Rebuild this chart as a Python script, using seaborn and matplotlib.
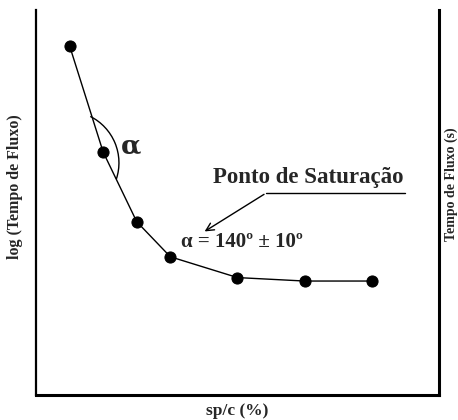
import matplotlib
matplotlib.use("Agg")
import matplotlib.pyplot as plt
from matplotlib.patches import Arc
import numpy as np
import pandas as pd
import seaborn as sns

# Flow-time curve versus superplasticizer/cement ratio
sp_c = [1, 2, 3, 4, 6, 8, 10]
log_tempo = [9.07, 6.31, 4.50, 3.59, 3.05, 2.96, 2.96]

x_label = "sp/c (%)"
y_label = "log (Tempo de Fluxo)"
y2_label = "Tempo de Fluxo (s)"
sat_label = "Ponto de Saturação"
angle_label = "α = 140º ± 10º"

df = pd.DataFrame({"sp_c": sp_c, "log_tempo": log_tempo})

sns.set_theme(style="white")
plt.rcParams["font.family"] = ["Liberation Serif", "DejaVu Serif"]

fig = plt.figure(figsize=(4.58, 4.20), dpi=100)
ax = fig.add_axes([36 / 458, 25 / 420, 403 / 458, 385 / 420])

sns.lineplot(data=df, x="sp_c", y="log_tempo", ax=ax, color="black",
             linewidth=1.0, marker="o", markersize=8, markeredgecolor="black",
             markerfacecolor="black", zorder=3)

ax.set_xlim(0, 12)
ax.set_ylim(0, 10)
ax.set_xticks([])
ax.set_yticks([])

ax.spines["top"].set_visible(False)
ax.spines["left"].set_linewidth(1.6)
ax.spines["bottom"].set_linewidth(2.2)
ax.spines["right"].set_linewidth(2.2)
for side in ("left", "bottom", "right"):
    ax.spines[side].set_color("black")

ax.set_xlabel(x_label, fontsize=12.5, fontweight="bold", labelpad=6)
ax.set_ylabel(y_label, fontsize=11.5, fontweight="bold")
ax.yaxis.set_label_coords(-0.033, 0.54)

# second axis label at the right edge
fig.text(451 / 458, 1 - 184 / 420, y2_label, rotation=90, ha="center",
         va="center", fontsize=10, fontweight="bold")

# angle arc at the second point
arc = Arc((0.92, 6.03), width=3.10, height=2.70, theta1=-16, theta2=60,
          color="black", linewidth=1.0)
ax.add_patch(arc)
ax.text(2.83, 6.47, "α", fontsize=19, ha="center", va="center",
        family=["DejaVu Serif"], fontweight="bold")

# saturation point callout
ax.text(8.11, 5.51, sat_label, fontsize=16.5, fontweight="bold",
        ha="center", va="baseline")
ax.plot([6.86, 10.98], [5.25, 5.25], color="black", linewidth=1.0)
ax.annotate("", xy=(4.95, 4.21), xytext=(6.86, 5.25),
            arrowprops=dict(arrowstyle="->", color="black", lw=1.0,
                            mutation_scale=14))
ax.text(4.33, 3.84, angle_label, fontsize=15, fontweight="bold",
        ha="left", va="baseline")

fig.savefig("out.png", dpi=100)
